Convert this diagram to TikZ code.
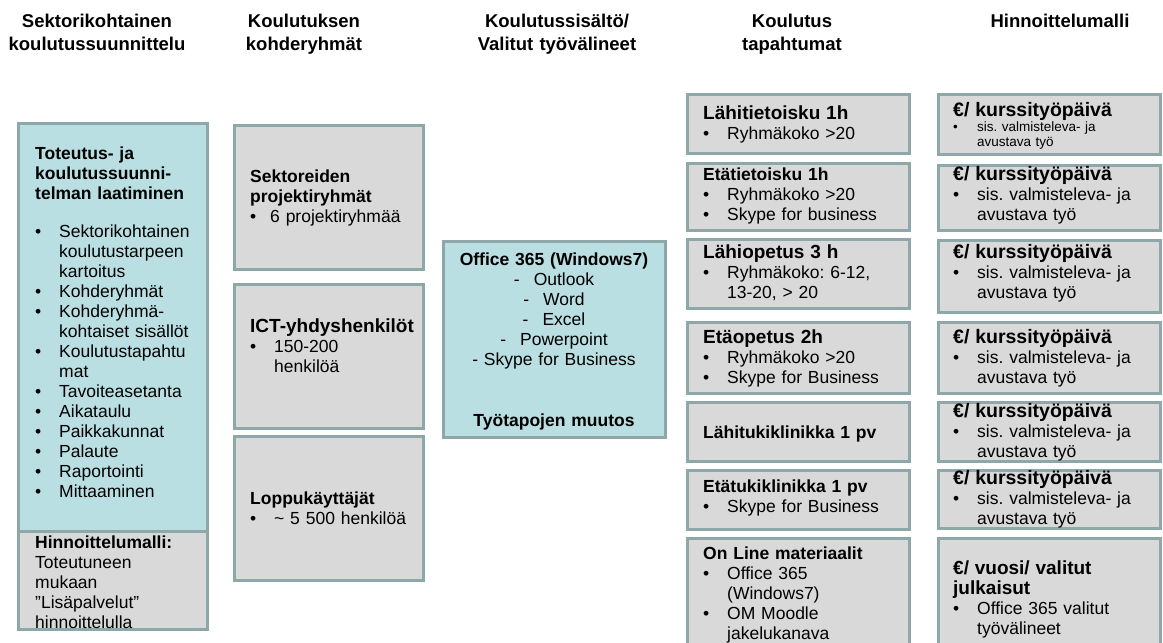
\documentclass[tikz,border=0pt]{standalone}
\usepackage{fontspec}
\setmainfont{Liberation Sans}
\frenchspacing
\definecolor{bord}{HTML}{8EA8AA}
\definecolor{greyf}{HTML}{D9D9D9}
\definecolor{bluef}{HTML}{B9DFE3}
\newcommand{\bit}[2][24pt]{\par\hangindent=#1\hangafter=1\noindent\makebox[#1][l]{\textbullet}#2}
\newcommand{\bitf}[2][24pt]{\hangindent=#1\hangafter=1\noindent\makebox[#1][l]{\textbullet}#2}
\newcommand{\bodyfont}{\fontsize{17.5}{20}\selectfont}
\newcommand{\ttl}[2][19]{{\fontsize{#1}{20}\selectfont\bfseries #2}}
\newcommand{\panel}[6]{\node[panel,#2,minimum width={(#5-#3)*1pt},minimum height={(#6-#4)*1pt}] (#1) at (#3,#4) {};}
\begin{document}
\begin{tikzpicture}[x=1pt,y=-1pt,
  panel/.style={draw=bord, line width=3pt, fill=greyf, inner sep=0pt, outer sep=0pt, anchor=north west},
  txt/.style={inner sep=0pt, anchor=base west, text width=210pt, align=left, font=\bodyfont},
  smalltxt/.style={txt, font=\fontsize{13.5}{15.5}\selectfont},
  head/.style={inner sep=0pt, anchor=base, text width=260pt, align=center, font=\fontsize{18.5}{23}\selectfont\bfseries},
]
\useasboundingbox (0,0) rectangle (1163,643);
% headers
\node[head] (h1) at (97,27) {Sektorikohtainen\\koulutussuunnittelu};
\node[head] (h2) at (304,27) {Koulutuksen\\kohderyhmät};
\node[head] (h3) at (557,27) {Koulutussisältö/\\Valitut työvälineet};
\node[head] (h4) at (792,27) {Koulutus\\tapahtumat};
\node[head] (h5) at (1060,27) {Hinnoittelumalli};
% column 1
\panel{c1a}{fill=bluef}{18}{123}{207}{531}
\panel{c1b}{}{18}{531}{207}{629}
\node[txt,font=\bodyfont\bfseries] (c1t) at (35,159) {Toteutus- ja\\koulutussuunni-\\telman laatiminen};
\node[txt] (c1l) at (35,237) {\bitf{Sektorikohtainen\newline koulutustarpeen\newline kartoitus}\bit{Kohderyhmät}\bit{Kohderyhmä-\newline kohtaiset sisällöt}\bit{Koulutustapahtu\newline mat}\bit{Tavoiteasetanta}\bit{Aikataulu}\bit{Paikkakunnat}\bit{Palaute}\bit{Raportointi}\bit{Mittaaminen}\par};
\node[txt] (c1p) at (35,548) {\textbf{Hinnoittelumalli:}\\Toteutuneen\\mukaan\\”Lisäpalvelut”\\hinnoittelulla};
% column 2
\panel{c2a}{}{234}{125}{423}{269}
\panel{c2b}{}{234}{284}{423}{428}
\panel{c2c}{}{234}{436}{423}{580}
\node[txt] (c2at) at (250,182) {\textbf{Sektoreiden}\par\textbf{projektiryhmät}\bit[20pt]{6 projektiryhmää}\par};
\node[txt] (c2bt) at (250,332) {\ttl{ICT-yhdyshenkilöt}\bit{150-200\newline henkilöä}\par};
\node[txt] (c2ct) at (250,504) {\textbf{Loppukäyttäjät}\bit{\textasciitilde{} 5 500 henkilöä}\par};
% column 3
\panel{c3}{fill=bluef}{443}{241}{665}{437}
\node[txt,anchor=base,text width=222pt,align=center] (c3t) at (554,265) {\textbf{Office 365 (Windows7)}\\-\hspace{14pt}Outlook\\-\hspace{14pt}Word\\-\hspace{14pt}Excel\\-\hspace{14pt}Powerpoint\\- Skype for Business\\[41pt]\textbf{Työtapojen muutos}};
% column 4
\panel{c4a}{}{687}{94}{909}{153}
\panel{c4b}{}{687}{163}{909}{230}
\panel{c4c}{}{687}{239}{909}{308}
\panel{c4d}{}{687}{322}{909}{393}
\panel{c4e}{}{687}{402}{909}{461}
\panel{c4f}{}{687}{470}{909}{529}
\panel{c4g}{}{687}{538}{909}{680}
\node[txt] (c4at) at (703,119) {\ttl{Lähitietoisku 1h}\bit{Ryhmäkoko >20}\par};
\node[txt] (c4bt) at (703,180) {\textbf{Etätietoisku 1h}\bit{Ryhmäkoko >20}\bit{Skype for business}\par};
\node[txt] (c4ct) at (703,258) {\ttl{Lähiopetus 3 h}\bit{Ryhmäkoko: 6-12,\newline 13-20, > 20}\par};
\node[txt] (c4dt) at (703,343) {\ttl{Etäopetus 2h}\bit{Ryhmäkoko >20}\bit{Skype for Business}\par};
\node[txt] (c4et) at (703,438) {\textbf{Lähitukiklinikka 1 pv}};
\node[txt] (c4ft) at (703,492) {\textbf{Etätukiklinikka 1 pv}\bit{Skype for Business}\par};
\node[txt] (c4gt) at (703,559) {\textbf{On Line materiaalit}\bit{Office 365\newline (Windows7)}\bit{OM Moodle\newline jakelukanava}\par};
% column 5
\panel{c5a}{}{938}{94}{1160}{154}
\panel{c5b}{}{938}{165}{1160}{230}
\panel{c5c}{}{938}{240}{1160}{312}
\panel{c5d}{}{938}{322}{1160}{393}
\panel{c5e}{}{938}{402}{1160}{461}
\panel{c5f}{}{938}{470}{1160}{528}
\panel{c5g}{}{938}{538}{1160}{680}
\node[txt] (c5at) at (953,116) {\ttl[19.5]{€/ kurssityöpäivä}};
\node[smalltxt] (c5as) at (953,131) {\bitf{sis. valmisteleva- ja\newline avustava työ}\par};
\node[txt] (c5bt) at (953,180) {\ttl[19.5]{€/ kurssityöpäivä}\bit{sis. valmisteleva- ja\newline avustava työ}\par};
\node[txt] (c5ct) at (953,258) {\ttl[19.5]{€/ kurssityöpäivä}\bit{sis. valmisteleva- ja\newline avustava työ}\par};
\node[txt] (c5dt) at (953,343) {\ttl[19.5]{€/ kurssityöpäivä}\bit{sis. valmisteleva- ja\newline avustava työ}\par};
\node[txt] (c5et) at (953,417) {\ttl[19.5]{€/ kurssityöpäivä}\bit{sis. valmisteleva- ja\newline avustava työ}\par};
\node[txt] (c5ft) at (953,484) {\ttl[19.5]{€/ kurssityöpäivä}\bit{sis. valmisteleva- ja\newline avustava työ}\par};
\node[txt] (c5gt) at (953,574) {\ttl{€/ vuosi/ valitut}\par\ttl{julkaisut}\bit{Office 365 valitut\newline työvälineet}\par};
\end{tikzpicture}
\end{document}
